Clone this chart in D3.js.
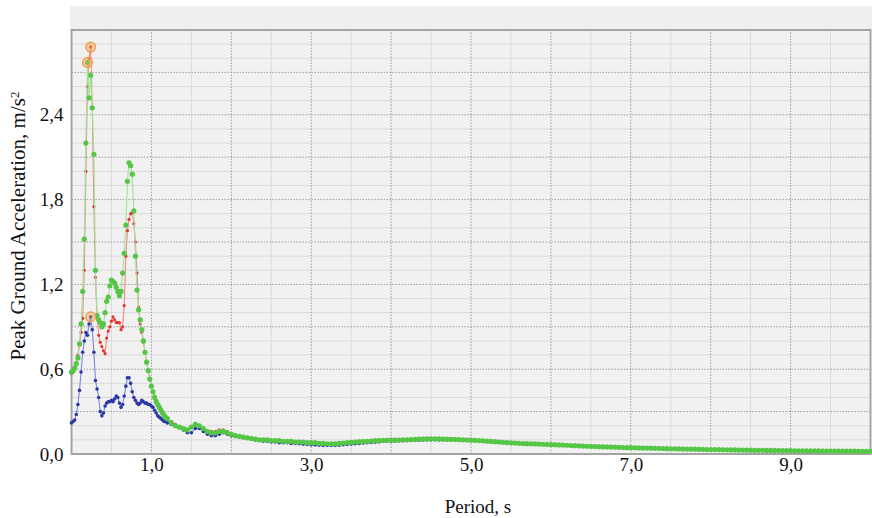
<!DOCTYPE html>
<meta charset="utf-8">
<style>
body { margin: 0; background: #fff; }
text { font-family: "Liberation Serif", "Times New Roman", serif; fill: #111; }
.grid-minor line { stroke: #dadada; stroke-width: 1; }
.grid-major line { stroke: #9c9c9c; stroke-width: 1; stroke-dasharray: 1.5,1.5; }
</style>
<body>
<script src="https://cdn.jsdelivr.net/npm/d3@7"></script>
<script>

// sampling grid of periods, s : fine near the peaks, coarser after 1.2 s
var periods = d3.range(0, 1.19, 0.02).concat(d3.range(1.2, 10.001, 0.05));

var blueValues = [
  0.22,0.23,0.24,0.28,0.35,0.45,0.58,0.72,0.80,0.86,
  0.84,0.92,0.97,0.88,0.72,0.52,0.46,0.40,0.30,0.27,
  0.29,0.34,0.36,0.37,0.37,0.38,0.37,0.39,0.41,0.40,
  0.36,0.33,0.35,0.41,0.48,0.54,0.54,0.50,0.44,0.40,
  0.38,0.36,0.35,0.36,0.38,0.37,0.36,0.36,0.35,0.35,
  0.34,0.33,0.31,0.29,0.27,0.26,0.25,0.24,0.23,0.23,
  // from 1.2 s
  0.22,0.21,0.20,0.19,0.17,0.15,0.15,0.18,0.18,0.16,
  0.14,0.13,0.13,0.14,0.15,0.14,0.13,0.125,0.12,0.115,
  0.11,0.105,0.10,0.095,0.09,0.09,0.085,0.085,0.08,0.08,
  0.08,0.075,0.075,0.072,0.07,0.068,0.066,0.064,0.062,0.06,
  0.06,0.06,0.06,0.062,0.065,0.068,0.07,0.072,0.075,0.077,
  0.08,0.082,0.084,0.086,0.088,0.09,0.09,0.092,0.093,0.094,
  0.095,0.096,0.097,0.098,0.099,0.10,0.10,0.10,0.10,0.10,
  0.10,0.10,0.10,0.10,0.099,0.098,0.097,0.096,0.094,0.092,
  0.091,0.089,0.087,0.085,0.083,0.081,0.079,0.077,0.076,0.074,
  0.073,0.072,0.071,0.07,0.069,0.068,0.067,0.066,0.064,0.063,
  0.062,0.06,0.059,0.058,0.056,0.055,0.054,0.053,0.052,0.051,
  0.05,0.049,0.048,0.047,0.046,0.045,0.045,0.044,0.043,0.042,
  0.042,0.041,0.04,0.04,0.039,0.038,0.037,0.037,0.036,0.035,
  0.035,0.034,0.034,0.033,0.033,0.032,0.032,0.031,0.031,0.03,
  0.03,0.029,0.029,0.028,0.028,0.027,0.027,0.026,0.026,0.026,
  0.025,0.025,0.025,0.024,0.024,0.024,0.024,0.023,0.023,0.023,
  0.022,0.022,0.022,0.022,0.021,0.021,0.021,0.021,0.02,0.02,
  0.02,0.02,0.02,0.019,0.019,0.019,0.019
];

var redValues = [
  0.57,0.58,0.60,0.64,0.70,0.77,0.86,0.96,1.30,2.00,
  2.60,2.80,2.88,2.45,1.75,1.25,0.97,0.84,0.79,0.76,
  0.73,0.71,0.82,0.87,0.90,0.94,0.97,0.95,0.93,0.93,
  0.93,0.88,0.90,1.05,1.40,1.58,1.66,1.70,1.71,1.63,
  1.50,1.28,1.04,0.92,0.86,0.79,0.72,0.65,0.59,0.53,
  0.48,0.44,0.41,0.38,0.35,0.33,0.31,0.29,0.28,0.26,
  // from 1.2 s
  0.25,0.23,0.21,0.19,0.18,0.17,0.19,0.21,0.20,0.18,
  0.16,0.16,0.16,0.17,0.17,0.16,0.14,0.13,0.125,0.12,
  0.115,0.11,0.105,0.10,0.10,0.10,0.095,0.095,0.095,0.09,
  0.09,0.09,0.085,0.085,0.085,0.08,0.08,0.08,0.075,0.075,
  0.072,0.072,0.072,0.075,0.078,0.08,0.082,0.085,0.087,0.088,
  0.09,0.092,0.094,0.095,0.096,0.097,0.098,0.098,0.099,0.10,
  0.10,0.102,0.104,0.105,0.106,0.107,0.108,0.108,0.107,0.106,
  0.105,0.104,0.103,0.102,0.10,0.099,0.098,0.097,0.095,0.093,
  0.091,0.089,0.087,0.085,0.083,0.081,0.079,0.077,0.076,0.074,
  0.073,0.072,0.071,0.07,0.069,0.068,0.067,0.066,0.064,0.063,
  0.062,0.06,0.059,0.058,0.056,0.055,0.054,0.053,0.052,0.051,
  0.05,0.049,0.048,0.047,0.046,0.045,0.045,0.044,0.043,0.042,
  0.042,0.041,0.04,0.04,0.039,0.038,0.037,0.037,0.036,0.035,
  0.035,0.034,0.034,0.033,0.033,0.032,0.032,0.031,0.031,0.03,
  0.03,0.029,0.029,0.028,0.028,0.027,0.027,0.026,0.026,0.026,
  0.025,0.025,0.025,0.024,0.024,0.024,0.024,0.023,0.023,0.023,
  0.022,0.022,0.022,0.022,0.021,0.021,0.021,0.021,0.02,0.02,
  0.02,0.02,0.02,0.019,0.019,0.019,0.02
];

var greenValues = [
  0.58,0.59,0.61,0.64,0.68,0.78,0.92,1.15,1.52,2.20,
  2.77,2.52,2.68,2.45,2.12,1.30,0.98,0.95,0.93,0.90,
  0.92,1.00,1.08,1.11,1.19,1.23,1.22,1.21,1.18,1.15,
  1.12,1.15,1.28,1.42,1.62,1.93,2.06,2.04,1.98,1.72,
  1.40,1.16,1.02,0.95,0.88,0.80,0.72,0.65,0.59,0.53,
  0.48,0.44,0.40,0.37,0.35,0.33,0.31,0.29,0.27,0.26,
  // from 1.2 s
  0.25,0.22,0.20,0.19,0.18,0.17,0.19,0.21,0.20,0.18,
  0.16,0.15,0.15,0.16,0.16,0.15,0.14,0.13,0.125,0.12,
  0.115,0.11,0.105,0.10,0.10,0.10,0.095,0.095,0.095,0.09,
  0.09,0.09,0.085,0.085,0.085,0.08,0.08,0.08,0.075,0.075,
  0.072,0.072,0.072,0.075,0.078,0.08,0.082,0.085,0.087,0.088,
  0.09,0.092,0.094,0.095,0.096,0.097,0.098,0.098,0.099,0.10,
  0.10,0.102,0.104,0.105,0.106,0.107,0.108,0.108,0.107,0.106,
  0.105,0.104,0.103,0.102,0.10,0.099,0.098,0.097,0.095,0.093,
  0.091,0.089,0.087,0.085,0.083,0.081,0.079,0.077,0.076,0.074,
  0.073,0.072,0.071,0.07,0.069,0.068,0.067,0.066,0.064,0.063,
  0.062,0.06,0.059,0.058,0.056,0.055,0.054,0.053,0.052,0.051,
  0.05,0.049,0.048,0.047,0.046,0.045,0.045,0.044,0.043,0.042,
  0.042,0.041,0.04,0.04,0.039,0.038,0.037,0.037,0.036,0.035,
  0.035,0.034,0.034,0.033,0.033,0.032,0.032,0.031,0.031,0.03,
  0.03,0.029,0.029,0.028,0.028,0.027,0.027,0.026,0.026,0.026,
  0.025,0.025,0.025,0.024,0.024,0.024,0.024,0.023,0.023,0.023,
  0.022,0.022,0.022,0.022,0.021,0.021,0.021,0.021,0.02,0.02,
  0.02,0.02,0.02,0.019,0.019,0.019,0.019
];

var xTickValues = [1, 3, 5, 7, 9];
var yTickValues = [0, 0.6, 1.2, 1.8, 2.4];

// drawn bottom to top
var series = [
  {name: "blue",  values: blueValues,  dot: "#2b36a8", line: "#7d87d8", r: 1.8},
  {name: "red",   values: redValues,   dot: "#e2352b", line: "#f08a80", r: 1.6},
  {name: "green", values: greenValues, dot: "#56c646", line: "#9ee39a", r: 2.6}
];

var width = 872, height = 518;

var x = d3.scaleLinear().domain([0, 10]).range([71.5, 870.5]);
var y = d3.scaleLinear().domain([0, 3]).range([454, 30]);

var comma = d3.formatLocale({decimal: ",", thousands: " ", grouping: [3], currency: ["", ""]}).format(".1f");

var svg = d3.select("body").append("svg")
  .attr("width", width)
  .attr("height", height);

// grey band above the plot
svg.append("rect")
  .attr("x", 70).attr("y", 6)
  .attr("width", width - 70).attr("height", 24)
  .attr("fill", "#efefef");

svg.append("rect")
  .attr("x", x(0)).attr("y", y(3))
  .attr("width", x(10) - x(0)).attr("height", y(0) - y(3))
  .attr("fill", "#f1f1f1");

// minor grid
var gMinor = svg.append("g").attr("class", "grid-minor");
gMinor.selectAll(".vx")
  .data(d3.range(0, 10).map(function(i) { return i + 0.5; }))
  .enter().append("line")
  .attr("x1", function(d) { return x(d); }).attr("x2", function(d) { return x(d); })
  .attr("y1", y(0)).attr("y2", y(3));
gMinor.selectAll(".hy")
  .data(d3.range(1, 30).filter(function(i) { return i % 3; }).map(function(i) { return i / 10; }))
  .enter().append("line")
  .attr("x1", x(0)).attr("x2", x(10))
  .attr("y1", function(d) { return y(d); }).attr("y2", function(d) { return y(d); });

// major grid
var gMajor = svg.append("g").attr("class", "grid-major");
gMajor.selectAll(".vx")
  .data(d3.range(1, 10))
  .enter().append("line")
  .attr("x1", function(d) { return x(d); }).attr("x2", function(d) { return x(d); })
  .attr("y1", y(0)).attr("y2", y(3));
gMajor.selectAll(".hy")
  .data(d3.range(1, 10).map(function(i) { return i * 0.3; }))
  .enter().append("line")
  .attr("x1", x(0)).attr("x2", x(10))
  .attr("y1", function(d) { return y(d); }).attr("y2", function(d) { return y(d); });

// frame
svg.append("rect")
  .attr("x", x(0)).attr("y", y(3))
  .attr("width", x(10) - x(0)).attr("height", y(0) - y(3))
  .attr("fill", "none")
  .attr("stroke", "#a4a4a4")
  .attr("stroke-width", 2);

// series
var plot = svg.append("g");

var line = d3.line()
  .x(function(d, i) { return x(periods[i]); })
  .y(function(d) { return y(d); });

series.forEach(function(s) {
  var g = plot.append("g").attr("class", "series-" + s.name);
  g.append("path")
    .datum(s.values)
    .attr("d", line)
    .attr("fill", "none")
    .attr("stroke", s.line)
    .attr("stroke-width", 1.1);
  g.selectAll("circle")
    .data(s.values)
    .enter().append("circle")
    .attr("cx", function(d, i) { return x(periods[i]); })
    .attr("cy", function(d) { return y(d); })
    .attr("r", s.r)
    .attr("fill", s.dot);
});

// peak markers
series.forEach(function(s) {
  var i = d3.maxIndex(s.values);
  plot.append("circle")
    .attr("cx", x(periods[i]))
    .attr("cy", y(s.values[i]))
    .attr("r", 4.8)
    .attr("fill", "#f5a65c")
    .attr("fill-opacity", 0.45)
    .attr("stroke", "#f0a050")
    .attr("stroke-width", 1.5);
});

// axes
var xAxis = svg.append("g")
  .attr("transform", "translate(0," + y(0) + ")")
  .call(d3.axisBottom(x).tickValues(xTickValues).tickSize(0).tickPadding(4).tickFormat(comma));
xAxis.select(".domain").remove();
xAxis.selectAll("text").attr("font-size", "19px").attr("font-family", "Liberation Serif").attr("fill", "#111");

var yAxis = svg.append("g")
  .attr("transform", "translate(" + x(0) + ",0)")
  .call(d3.axisLeft(y).tickValues(yTickValues).tickSize(0).tickPadding(8).tickFormat(comma));
yAxis.select(".domain").remove();
yAxis.selectAll("text").attr("font-size", "19px").attr("font-family", "Liberation Serif").attr("fill", "#111");

// titles
svg.append("text")
  .attr("x", 478)
  .attr("y", 513)
  .attr("text-anchor", "middle")
  .style("font-size", "19px")
  .text("Period, s");

var yTitle = svg.append("text")
  .attr("transform", "translate(25,226) rotate(-90)")
  .attr("text-anchor", "middle")
  .style("font-size", "21px");
yTitle.append("tspan").text("Peak Ground Acceleration, m/s");
yTitle.append("tspan").attr("dy", "-0.45em").style("font-size", "13px").text("2");

</script>
